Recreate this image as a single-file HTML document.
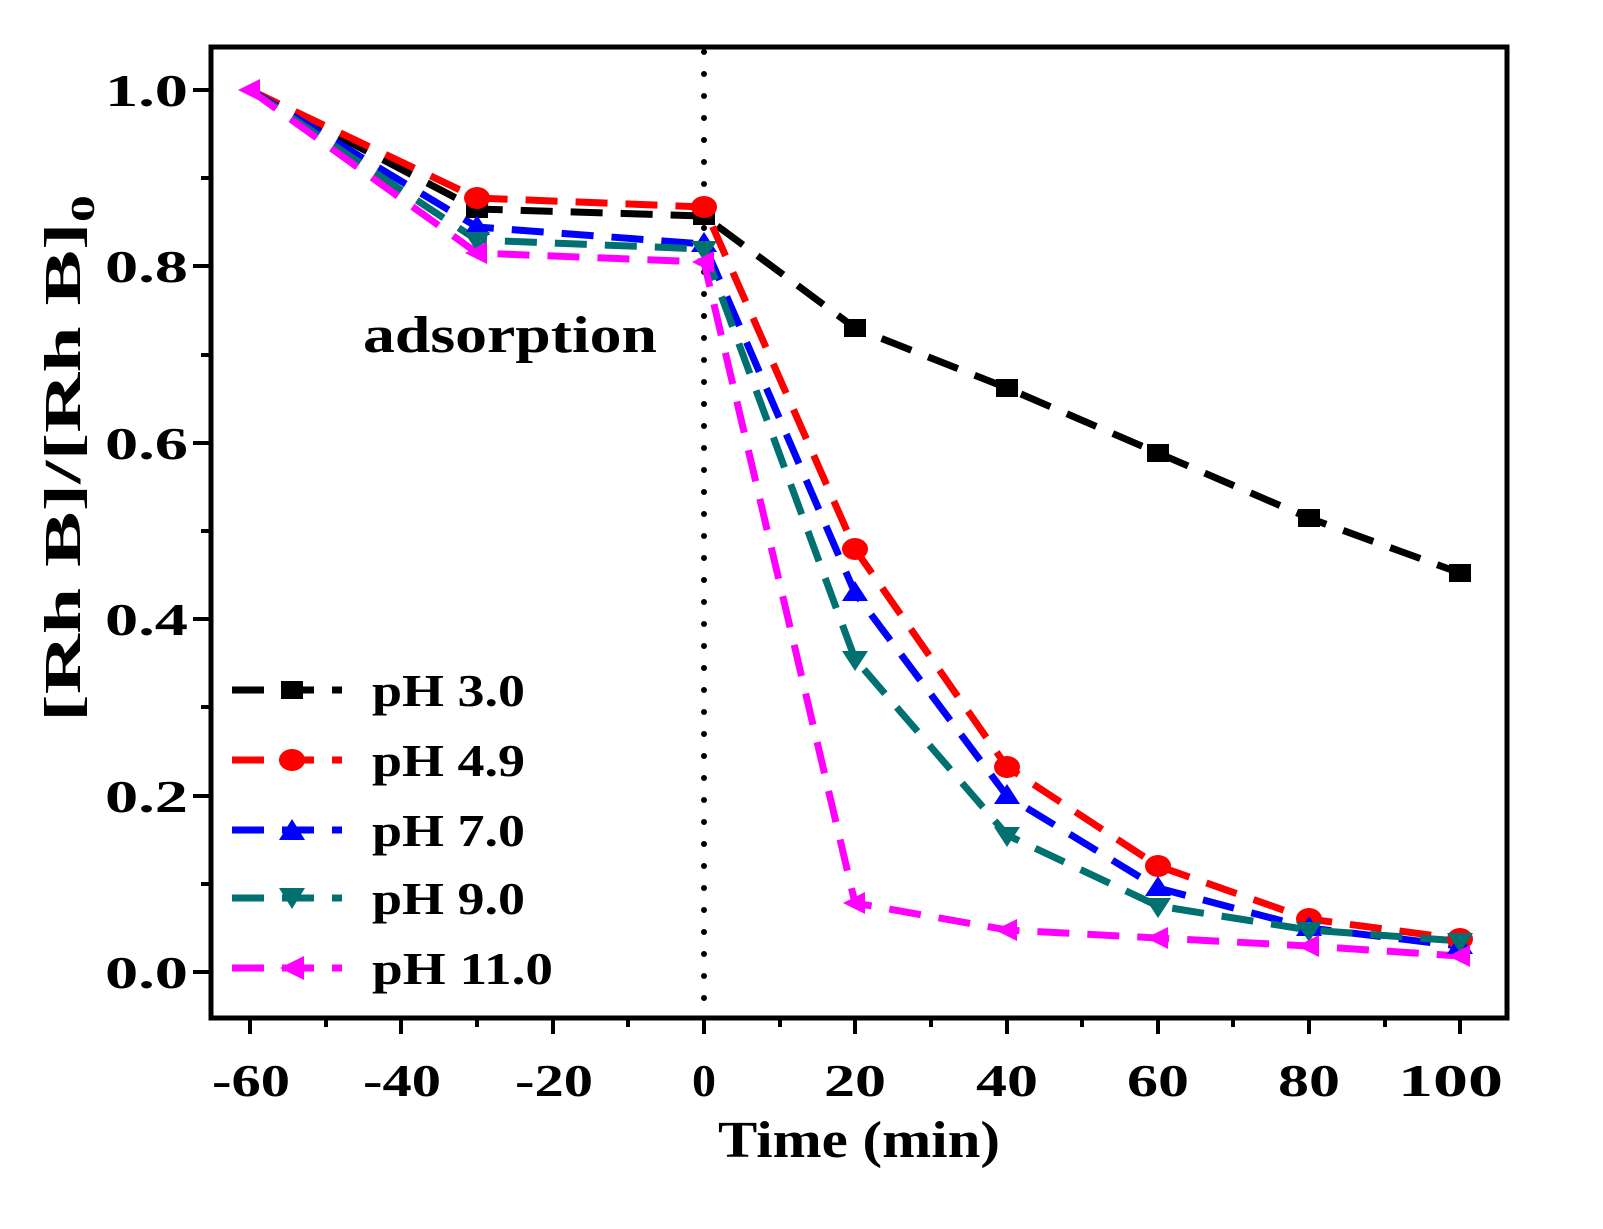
<!DOCTYPE html>
<html><head><meta charset="utf-8"><style>
html,body{margin:0;padding:0;background:#fff;}
svg text{font-family:"Liberation Serif",serif;font-weight:bold;}
</style></head><body>
<svg width="1603" height="1224" viewBox="0 0 1603 1224" xmlns="http://www.w3.org/2000/svg">
<rect width="1603" height="1224" fill="#fff"/>
<line x1="704" y1="52" x2="704" y2="1014" stroke="#000" stroke-width="6" stroke-dasharray="0 22" stroke-linecap="round"/>
<g fill="none" stroke-width="7" stroke-dasharray="32 18">
<polyline stroke="#000" points="250,90 477,209 704,216 855,328 1007,388 1158,453 1309,518 1460,573"/>
<polyline stroke="#ff0000" points="250,90 477,198 704,207 855,549 1007,767 1158,866 1309,919 1460,939"/>
<polyline stroke="#0000ff" points="250,90 477,227 704,244 855,593 1007,796 1158,888 1309,928 1460,946"/>
<polyline stroke="#007070" points="250,90 477,240 704,249 855,659 1007,835 1158,906 1309,930 1460,941"/>
<polyline stroke="#ff00ff" points="250,90 477,253 704,262 855,903 1007,930 1158,938 1309,946 1460,956"/>
</g>
<g fill="#000"><rect x="466" y="200" width="22" height="18"/><rect x="693" y="207" width="22" height="18"/><rect x="844" y="319" width="22" height="18"/><rect x="996" y="379" width="22" height="18"/><rect x="1147" y="444" width="22" height="18"/><rect x="1298" y="509" width="22" height="18"/><rect x="1449" y="564" width="22" height="18"/></g>
<g fill="#ff0000"><ellipse cx="477" cy="198" rx="13" ry="11"/><ellipse cx="704" cy="207" rx="13" ry="11"/><ellipse cx="855" cy="549" rx="13" ry="11"/><ellipse cx="1007" cy="767" rx="13" ry="11"/><ellipse cx="1158" cy="866" rx="13" ry="11"/><ellipse cx="1309" cy="919" rx="13" ry="11"/><ellipse cx="1460" cy="939" rx="13" ry="11"/></g>
<g fill="#0000ff"><path d="M477,215l13,20h-26z M704,232l13,20h-26z M855,581l13,20h-26z M1007,784l13,20h-26z M1158,876l13,20h-26z M1309,916l13,20h-26z M1460,934l13,20h-26z"/></g>
<g fill="#007070"><path d="M477,252l13,-20h-26z M704,261l13,-20h-26z M855,671l13,-20h-26z M1007,847l13,-20h-26z M1158,918l13,-20h-26z M1309,942l13,-20h-26z M1460,953l13,-20h-26z"/></g>
<g fill="#ff00ff"><path d="M465,253l22,-11v22z M692,262l22,-11v22z M843,903l22,-11v22z M995,930l22,-11v22z M1146,938l22,-11v22z M1297,946l22,-11v22z M1448,956l22,-11v22z M238,90l22,-11v22z"/></g>
<rect x="211" y="47" width="1296" height="971" fill="none" stroke="#000" stroke-width="5"/>
<g stroke="#000" stroke-width="4">
<path d="M250,1018v16 M401,1018v16 M553,1018v16 M704,1018v16 M855,1018v16 M1007,1018v16 M1158,1018v16 M1309,1018v16 M1460,1018v16"/>
<path d="M326,1018v9 M477,1018v9 M628,1018v9 M780,1018v9 M931,1018v9 M1082,1018v9 M1233,1018v9 M1385,1018v9"/>
<path d="M211,972h-18 M211,796h-18 M211,619h-18 M211,443h-18 M211,266h-18 M211,90h-18"/>
<path d="M211,884h-10 M211,707h-10 M211,531h-10 M211,355h-10 M211,178h-10"/>
</g>
<g font-size="46" fill="#000">
<text x="105" y="988" textLength="83" lengthAdjust="spacingAndGlyphs">0.0</text>
<text x="105" y="812" textLength="83" lengthAdjust="spacingAndGlyphs">0.2</text>
<text x="105" y="635" textLength="83" lengthAdjust="spacingAndGlyphs">0.4</text>
<text x="105" y="459" textLength="83" lengthAdjust="spacingAndGlyphs">0.6</text>
<text x="105" y="282" textLength="83" lengthAdjust="spacingAndGlyphs">0.8</text>
<text x="105" y="106" textLength="83" lengthAdjust="spacingAndGlyphs">1.0</text>
<text x="212" y="1096" textLength="78" lengthAdjust="spacingAndGlyphs">-60</text>
<text x="363" y="1096" textLength="78" lengthAdjust="spacingAndGlyphs">-40</text>
<text x="515" y="1096" textLength="78" lengthAdjust="spacingAndGlyphs">-20</text>
<text x="692" y="1096" textLength="24" lengthAdjust="spacingAndGlyphs">0</text>
<text x="824" y="1096" textLength="62" lengthAdjust="spacingAndGlyphs">20</text>
<text x="976" y="1096" textLength="62" lengthAdjust="spacingAndGlyphs">40</text>
<text x="1127" y="1096" textLength="62" lengthAdjust="spacingAndGlyphs">60</text>
<text x="1278" y="1096" textLength="62" lengthAdjust="spacingAndGlyphs">80</text>
<text x="1398" y="1096" textLength="105" lengthAdjust="spacingAndGlyphs">100</text>
<text x="718" y="1157" font-size="52" textLength="282" lengthAdjust="spacingAndGlyphs">Time (min)</text>
<text x="363" y="352" font-size="52" textLength="294" lengthAdjust="spacingAndGlyphs">adsorption</text>
<text x="372" y="706" textLength="153" lengthAdjust="spacingAndGlyphs">pH 3.0</text>
<text x="372" y="776" textLength="153" lengthAdjust="spacingAndGlyphs">pH 4.9</text>
<text x="372" y="846" textLength="153" lengthAdjust="spacingAndGlyphs">pH 7.0</text>
<text x="372" y="914" textLength="153" lengthAdjust="spacingAndGlyphs">pH 9.0</text>
<text x="372" y="984" textLength="181" lengthAdjust="spacingAndGlyphs">pH 11.0</text>
</g>
<text transform="translate(80,722) rotate(-90)" font-size="52" fill="#000" textLength="527" lengthAdjust="spacingAndGlyphs">[Rh B]/[Rh B]<tspan font-size="34" dy="14">0</tspan></text>
<g stroke-width="7" fill="none" stroke-dasharray="32 18">
<line x1="232" y1="690" x2="342" y2="690" stroke="#000"/>
<line x1="232" y1="760" x2="342" y2="760" stroke="#ff0000"/>
<line x1="232" y1="830" x2="342" y2="830" stroke="#0000ff"/>
<line x1="232" y1="898" x2="342" y2="898" stroke="#007070"/>
<line x1="232" y1="968" x2="342" y2="968" stroke="#ff00ff"/>
</g>
<rect x="281" y="681" width="22" height="18" fill="#000"/>
<ellipse cx="292" cy="760" rx="13" ry="11" fill="#ff0000"/>
<path d="M292,819l13,21h-26z" fill="#0000ff"/>
<path d="M292,909l13,-21h-26z" fill="#007070"/>
<path d="M280,968l24,-12v24z" fill="#ff00ff"/>
</svg>
</body></html>
